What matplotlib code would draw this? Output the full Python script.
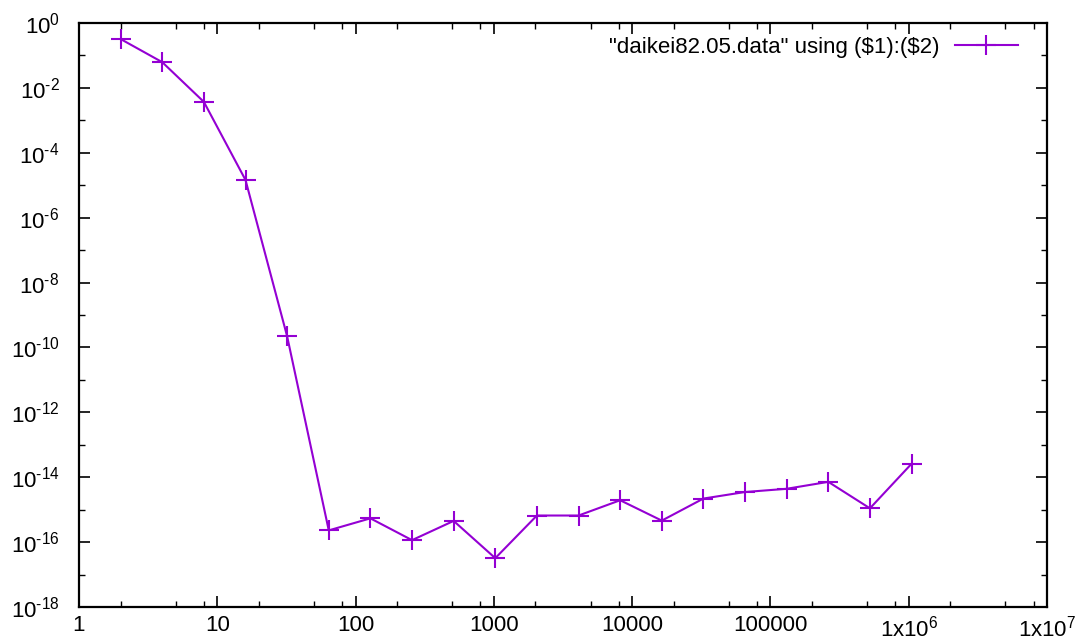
import numpy as np
import matplotlib
matplotlib.use("Agg")
import matplotlib.pyplot as plt
from matplotlib.ticker import FixedLocator, FixedFormatter, NullFormatter

plt.rcParams['font.family'] = ['Liberation Sans', 'DejaVu Sans']
plt.rcParams['mathtext.fontset'] = 'custom'
plt.rcParams['mathtext.rm'] = 'Liberation Sans'
plt.rcParams['mathtext.it'] = 'Liberation Sans:italic'
plt.rcParams['mathtext.bf'] = 'Liberation Sans:bold'

# Number of subintervals and the corresponding absolute error
n_points = [2, 4, 8, 16, 32, 64, 128, 256, 512, 1024, 2048, 4096, 8192,
            16384, 32768, 65536, 131072, 262144, 524288, 1048576]
errors = [3.2e-1, 6.2e-2, 3.7e-3, 1.45e-5, 2.2e-10, 2.3e-16, 5.4e-16,
          1.15e-16, 4.5e-16, 3.2e-17, 6.6e-16, 6.6e-16, 1.95e-15, 4.6e-16,
          2.2e-15, 3.5e-15, 4.4e-15, 7.2e-15, 1.1e-15, 2.6e-14]

series_label = r'"daikei82.05.data" using (\$1):(\$2)'

x_ticks = [1, 10, 100, 1000, 10000, 100000, 1e6, 1e7]
x_tick_labels = ['1', '10', '100', '1000', '10000', '100000',
                 r'1x10$^{6}$', r'1x10$^{7}$']
y_ticks = [10.0 ** e for e in range(0, -19, -2)]
y_tick_labels = ['10$^{0}$'] + [r'10$^{\text{-}%d}$' % -e for e in range(-2, -19, -2)]

color = '#9400d3'
fs = 16
W, H = 1088, 643
fig = plt.figure(figsize=(W / 100, H / 100), dpi=100)
left, right, top, bottom = 79, 1047, 23, 607
ax = fig.add_axes([left / W, 1 - bottom / H, (right - left) / W, (bottom - top) / H])

ax.plot(n_points, errors, color=color, lw=1.5, marker='+', ms=14,
        mew=1.5, label=series_label)

ax.set_xscale('log')
ax.set_yscale('log')
ax.set_xlim(1, 1e7)
ax.set_ylim(1e-18, 1)

ax.xaxis.set_major_locator(FixedLocator(x_ticks))
ax.xaxis.set_major_formatter(FixedFormatter(x_tick_labels))
x_minor = [m * 10.0 ** d for d in range(0, 7) for m in (2, 5, 8)]
ax.xaxis.set_minor_locator(FixedLocator(x_minor))
ax.xaxis.set_minor_formatter(NullFormatter())

ax.yaxis.set_major_locator(FixedLocator(y_ticks))
ax.yaxis.set_major_formatter(FixedFormatter(y_tick_labels))
y_minor = [10.0 ** e for e in range(-1, -18, -2)]
ax.yaxis.set_minor_locator(FixedLocator(y_minor))
ax.yaxis.set_minor_formatter(NullFormatter())

ax.tick_params(which='both', direction='in', top=True, right=True,
               color='black', labelsize=fs)
ax.tick_params(which='major', length=8, width=1.2)
ax.tick_params(which='minor', length=4.5, width=1.0)
ax.tick_params(axis='y', pad=14)
ax.tick_params(axis='x', pad=6)
for sp in ax.spines.values():
    sp.set_linewidth(1.6)
    sp.set_color('black')

leg = ax.legend(loc='center right',
                bbox_to_anchor=((1018 - left) / (right - left), (bottom - 47) / (bottom - top)),
                frameon=False, markerfirst=False, fontsize=fs,
                handlelength=2.85, handletextpad=0.7, borderpad=0,
                borderaxespad=0)

fig.savefig('out.png', dpi=100)
